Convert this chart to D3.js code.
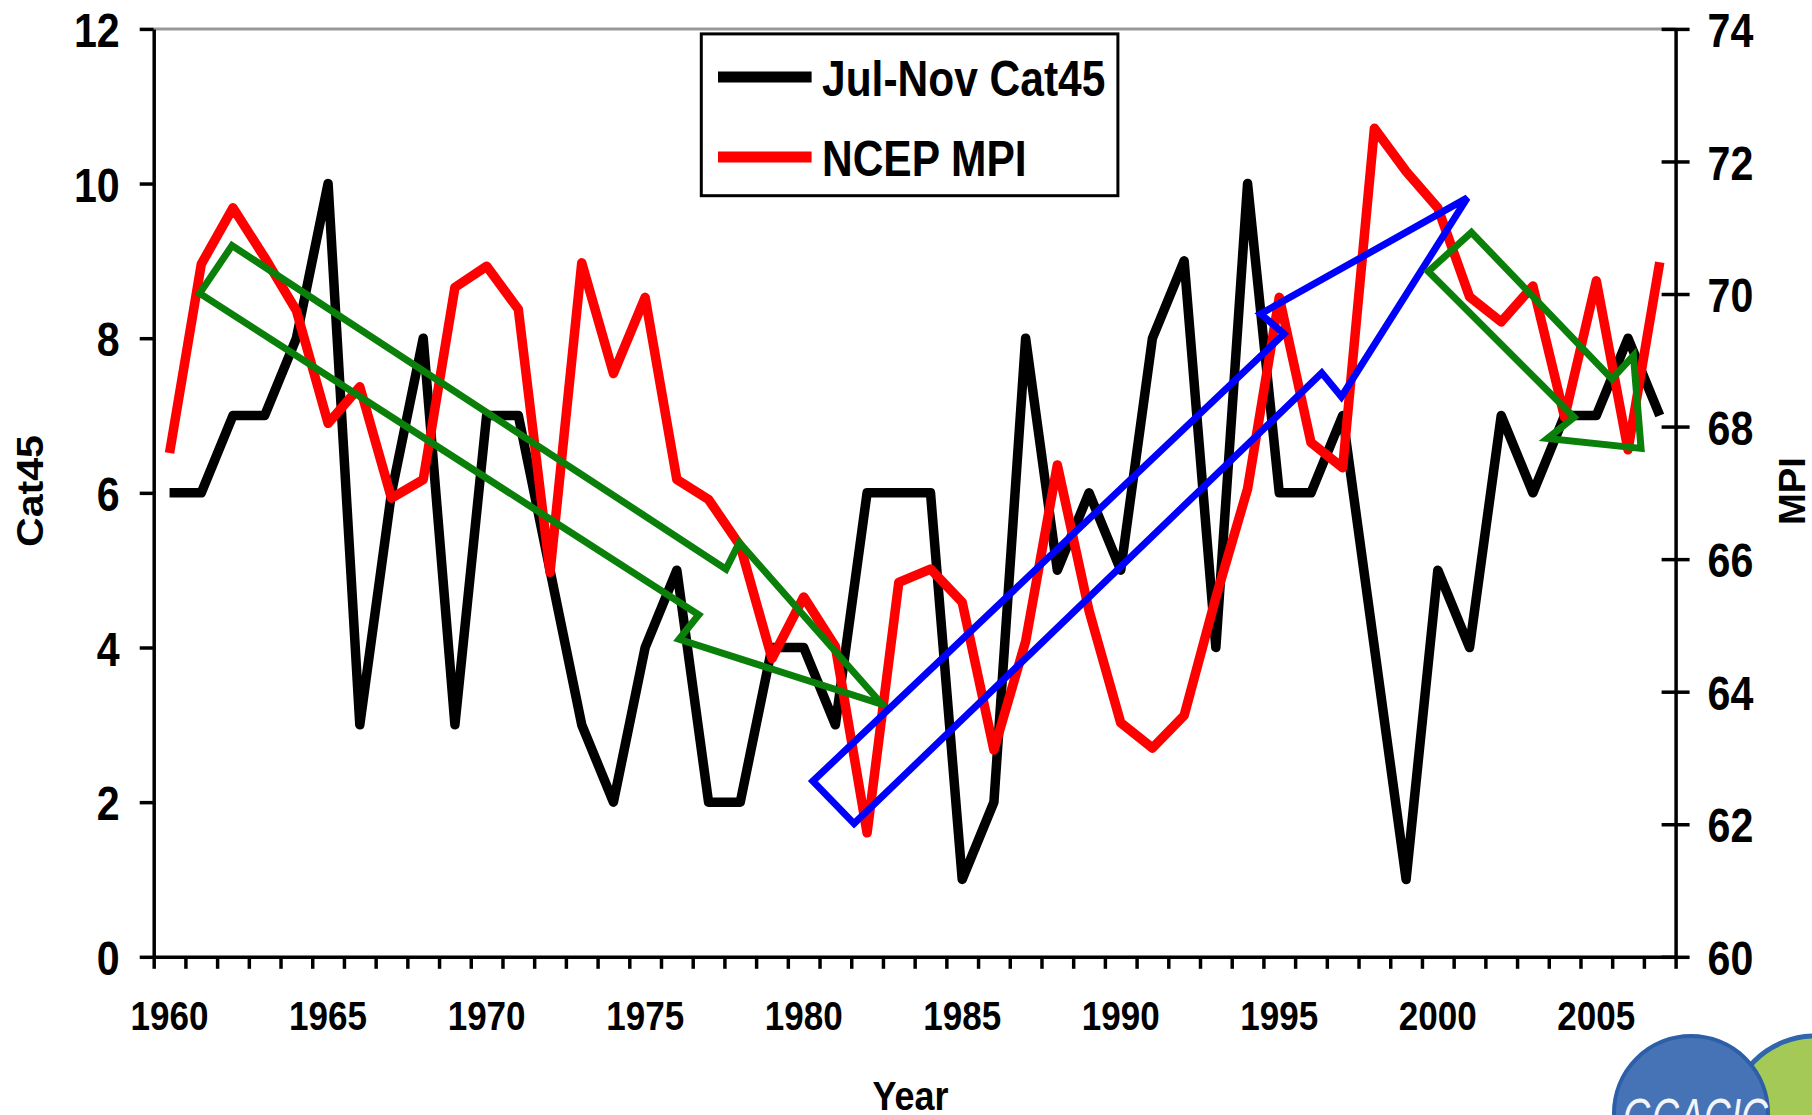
<!DOCTYPE html>
<html>
<head>
  <style>
    body {
      margin: 0;
      background: white;
    }
    text {
      font-family: "Liberation Sans", Arial, sans-serif;
      font-weight: bold;
      fill: black;
    }
    .axis path, .axis line {
      stroke: black;
      stroke-width: 3.5;
    }
  </style>
</head>
<body>
  <script src="https://d3js.org/d3.v7.min.js"></script>
  <script>
    var width = 1812, height = 1115;

    // data
    var years = [1960, 1961, 1962, 1963, 1964, 1965, 1966, 1967, 1968, 1969,
                 1970, 1971, 1972, 1973, 1974, 1975, 1976, 1977, 1978, 1979,
                 1980, 1981, 1982, 1983, 1984, 1985, 1986, 1987, 1988, 1989,
                 1990, 1991, 1992, 1993, 1994, 1995, 1996, 1997, 1998, 1999,
                 2000, 2001, 2002, 2003, 2004, 2005, 2006, 2007];
    var cat45 = [6, 6, 7, 7, 8, 10, 3, 6, 8, 3,
                 7, 7, 5, 3, 2, 4, 5, 2, 2, 4,
                 4, 3, 6, 6, 6, 1, 2, 8, 5, 6,
                 5, 8, 9, 4, 10, 6, 6, 7, 4, 1,
                 5, 4, 7, 6, 7, 7, 8, 7];
    var mpi = [67.6, 70.45, 71.3, 70.55, 69.75, 68.05, 68.6, 66.92, 67.2, 70.1,
               70.42, 69.77, 65.8, 70.47, 68.8, 69.95, 67.2, 66.9, 66.2, 64.5,
               65.43, 64.68, 61.87, 65.65, 65.85, 65.35, 63.12, 64.76, 67.42, 65.22,
               63.53, 63.15, 63.64, 65.42, 67.06, 69.95, 67.76, 67.38, 72.5, 71.85,
               71.3, 69.96, 69.58, 70.12, 68.14, 70.2, 67.65, 70.48];
    var yearLabels = [1960, 1965, 1970, 1975, 1980, 1985, 1990, 1995, 2000, 2005];
    var cat45Ticks = [0, 2, 4, 6, 8, 10, 12];
    var mpiTicks = [60, 62, 64, 66, 68, 70, 72, 74];
    var seriesNames = ["Jul-Nov Cat45", "NCEP MPI"];

    // hand drawn trend arrows, in (year, MPI) units
    var greenArrow1 = [[1960.95, 70.01], [1961.97, 70.73], [1977.55, 65.85], [1977.97, 66.25],
                       [1982.47, 63.81], [1976.07, 64.79], [1976.69, 65.16]];
    var blueArrow = [[1980.29, 62.65], [1995.15, 69.40], [1994.41, 69.70], [2000.93, 71.45],
                     [1996.96, 68.45], [1996.34, 68.81], [1981.59, 62.01]];
    var greenArrow2 = [[1999.70, 70.34], [2001.06, 70.93], [2005.49, 68.72], [2006.17, 69.07],
                       [2006.41, 67.67], [2003.46, 67.82], [2004.30, 68.14]];

    var seriesColors = ["black", "red"];
    var plotLeft = 153.7, plotRight = 1675.6, plotTop = 28.9, plotBottom = 956.8;

    var svg = d3.select("body").append("svg")
        .attr("width", width)
        .attr("height", height);

    var x = d3.scaleBand().domain(years).range([plotLeft, plotRight]);
    var xLin = d3.scaleLinear().domain([years[0] - 0.5, years[years.length - 1] + 0.5]).range([plotLeft, plotRight]);
    var yLeft = d3.scaleLinear().domain([0, 12]).range([plotBottom, plotTop]);
    var yRight = d3.scaleLinear().domain([60, 74]).range([plotBottom, plotTop]);

    // top frame line
    svg.append("line")
        .attr("x1", plotLeft).attr("x2", plotRight)
        .attr("y1", plotTop).attr("y2", plotTop)
        .attr("stroke", "#999").attr("stroke-width", 3);

    // left axis
    var gl = svg.append("g").attr("class", "axis")
        .attr("transform", "translate(" + plotLeft + ",0)")
        .call(d3.axisLeft(yLeft).tickValues(cat45Ticks).tickSize(14).tickSizeOuter(0));
    gl.selectAll("text")
        .attr("x", null).attr("dy", "0.36em")
        .attr("transform", "translate(-34,0) scale(0.84,1)")
        .style("font-size", "49px");

    // right axis, ticks cross the line
    var gr = svg.append("g").attr("class", "axis")
        .attr("transform", "translate(" + plotRight + ",0)")
        .call(d3.axisRight(yRight).tickValues(mpiTicks).tickSize(14).tickSizeOuter(0));
    gr.selectAll(".tick line").attr("x1", -14);
    gr.selectAll("text")
        .attr("x", null).attr("dy", "0.36em")
        .attr("transform", "translate(32,0) scale(0.84,1)")
        .style("font-size", "49px");

    // bottom axis: tick marks between categories, labels every 5 years
    var boundaries = years.map(d => d - 0.5).concat([years[years.length - 1] + 0.5]);
    svg.append("g").attr("class", "axis")
        .attr("transform", "translate(0," + plotBottom + ")")
        .call(d3.axisBottom(xLin).tickValues(boundaries).tickFormat("").tickSize(12).tickSizeOuter(0));
    var gb = svg.append("g")
        .attr("transform", "translate(0," + plotBottom + ")")
        .call(d3.axisBottom(x).tickValues(yearLabels).tickSize(0));
    gb.select(".domain").remove();
    gb.selectAll("text")
        .attr("y", null).attr("dy", null)
        .attr("transform", "translate(0,73) scale(0.855,1)")
        .style("font-size", "41px");

    // series
    var cx = d => x(d) + x.bandwidth() / 2;
    var lineCat = d3.line().x((d, i) => cx(years[i])).y(d => yLeft(d));
    var lineMpi = d3.line().x((d, i) => cx(years[i])).y(d => yRight(d));

    svg.append("path").datum(cat45)
        .attr("d", lineCat)
        .attr("fill", "none").attr("stroke", seriesColors[0])
        .attr("stroke-width", 9.5).attr("stroke-linejoin", "round");
    svg.append("path").datum(mpi)
        .attr("d", lineMpi)
        .attr("fill", "none").attr("stroke", seriesColors[1])
        .attr("stroke-width", 9.5).attr("stroke-linejoin", "round");

    // arrows drawn over the chart
    var arrow = d3.line().x(d => xLin(d[0])).y(d => yRight(d[1])).curve(d3.curveLinearClosed);
    [[greenArrow1, "#0a800a"], [blueArrow, "#0000ff"], [greenArrow2, "#0a800a"]].forEach(a => {
      svg.append("path").datum(a[0])
          .attr("d", arrow)
          .attr("fill", "none").attr("stroke", a[1])
          .attr("stroke-width", 7).attr("stroke-linejoin", "miter");
    });

    // legend
    var lg = svg.append("g");
    lg.append("rect")
        .attr("x", 701.3).attr("y", 33.9)
        .attr("width", 416.6).attr("height", 161.8)
        .attr("fill", "white").attr("stroke", "black").attr("stroke-width", 3);
    seriesNames.forEach((name, i) => {
      var ly = 77 + i * 80;
      lg.append("line")
          .attr("x1", 718).attr("x2", 811.6)
          .attr("y1", ly).attr("y2", ly)
          .attr("stroke", seriesColors[i]).attr("stroke-width", 11);
      lg.append("text")
          .attr("transform", "translate(822," + (ly + 18.5) + ") scale(0.85,1)")
          .style("font-size", "50px")
          .text(name);
    });

    // axis titles
    svg.append("text")
        .attr("transform", "translate(43,491) rotate(-90)")
        .attr("text-anchor", "middle")
        .attr("textLength", 112).attr("lengthAdjust", "spacingAndGlyphs")
        .style("font-size", "36px")
        .text("Cat45");
    svg.append("text")
        .attr("transform", "translate(1805,491) rotate(-90)")
        .attr("text-anchor", "middle")
        .attr("textLength", 68).attr("lengthAdjust", "spacingAndGlyphs")
        .style("font-size", "36px")
        .text("MPI");
    svg.append("text")
        .attr("x", 910.5).attr("y", 1110)
        .attr("text-anchor", "middle")
        .attr("textLength", 76).attr("lengthAdjust", "spacingAndGlyphs")
        .style("font-size", "41px")
        .text("Year");

    // logo in the corner, cut by the edge
    var logo = svg.append("g");
    logo.append("circle")
        .attr("cx", 1815).attr("cy", 1122).attr("r", 86)
        .attr("fill", "#a5c956").attr("stroke", "#2f66ad").attr("stroke-width", 5);
    logo.append("circle")
        .attr("cx", 1691).attr("cy", 1113).attr("r", 77)
        .attr("fill", "#4672b6").attr("stroke", "#2c5fa8").attr("stroke-width", 4);
    logo.append("text")
        .attr("x", 1623).attr("y", 1135)
        .attr("textLength", 145).attr("lengthAdjust", "spacingAndGlyphs")
        .style("font-size", "52px").style("font-style", "italic").style("font-weight", "normal")
        .style("fill", "#f2f5fa")
        .text("GCACIC");
  </script>
</body>
</html>
